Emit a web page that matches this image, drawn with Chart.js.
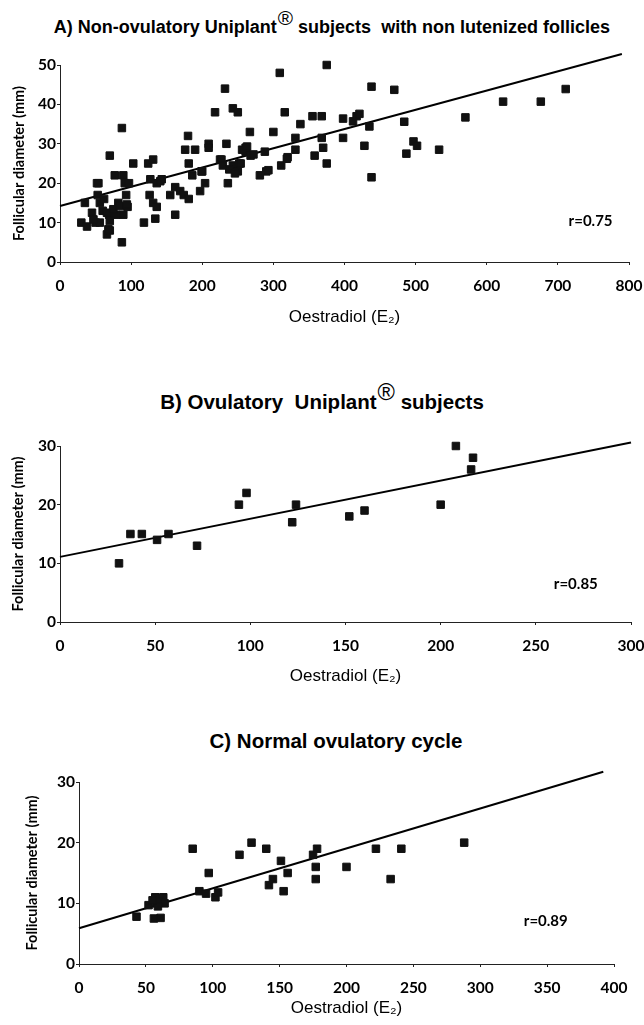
<!DOCTYPE html>
<html>
<head>
<meta charset="utf-8">
<script src="https://cdn.jsdelivr.net/npm/chart.js@4/dist/chart.umd.min.js"></script>
<style>
  body{margin:0;background:#fff;width:644px;height:1025px;position:relative;overflow:hidden}
  canvas{position:absolute;left:0}
  .ttl{position:absolute;left:0;width:644px;text-align:center;font:bold 20.5px "Liberation Sans",Arial,sans-serif;color:#000;white-space:nowrap}
  .ttl .reg{font-weight:normal;font-size:1.15em;position:relative;top:-0.4em;margin-left:1px}
</style>
</head>
<body>
<div class="ttl" style="top:14px;left:10px;font-size:18px">A) Non-ovulatory Uniplant<span class="reg">®</span> subjects &nbsp;with non lutenized follicles</div>
<canvas id="chartA" width="644" height="300" style="top:40px"></canvas>
<div class="ttl" style="top:388px;left:0px">B) Ovulatory &nbsp;Uniplant<span class="reg">®</span> subjects</div>
<canvas id="chartB" width="644" height="290" style="top:420px"></canvas>
<div class="ttl" style="top:729px;left:14px">C) Normal ovulatory cycle</div>
<canvas id="chartC" width="644" height="265" style="top:760px"></canvas>
<script>
// A) non-ovulatory, non luteinized follicles
const aX = [30,38,35,54,53,56,45,50,56,60,62,66,70,70,69,77,79,87,87,89,91,93,95,89,82,97,
  103,118,124,131,127,126,131,136,134,136,143,155,162,162,169,174,180,176,181,181,186,190,197,200,
  204,209,209,218,232,225,234,236,243,250,243,250,252,261,267,261,268,281,288,290,300,309,316,311,
  320,331,331,338,355,368,358,368,370,375,375,398,398,412,417,421,438,435,428,438,470,484,487,497,
  502,533,570,623,676,711,227,229,256,263,272,238,246,254,319,293,199,66,75,84,94,47,70,68,141,52];
const aY = [10,9,15,20,17,15,12.5,10,10,13,16,7,27,8,12,22,12,34,5,22,20,17,14,12,15,20,
  25,10,25,26,21,17,15,14,11,20,21,17,12,19,18,17,32,28.5,25,16,22,28.5,18,23,
  20,30,29,38,44,26,30,20,39,38,24.5,23,25,28,33,29,27,22,28,23,33,48,38,24.5,
  26.6,31.5,28.5,35,37,37,27,31.5,29,50,25,36.4,31.5,35.7,37,37.6,44.5,34.4,29.5,21.5,43.7,35.6,27.5,30.6,
  29.5,28.5,36.7,40.7,40.7,43.9,26,24.5,28.5,29.3,27.3,23.5,22.5,25,26.2,23.3,23,12.5,13.4,14.2,14.6,10.8,10.4,8.3,20.5,20];
const aLineX = [0,790];
const aLineY = [14.2,52.8];

// B) ovulatory
const bX = [31,37,43,51,57,72,94,98,122,124,152,160,200,208,216,217];
const bY = [10,15,15,14,15,13,20,22,17,20,18,19,20,30,26,28];
const bLineX = [0,300];
const bLineY = [11.1,30.6];

// C) normal ovulatory cycle
const cX = [43,52,56,61,57,63,58,60,64,59,55,85,90,97,95,102,104,120,129,140,142,145,151,153,156,
  175,178,177,177,200,222,233,241,288];
const cY = [7.8,9.7,7.5,7.6,11,11,10,10.3,10,9.5,10.5,19,12,15,11.6,11,11.8,18,20,19,13,14,17,12,15,
  18,19,16,14,16,19,14,19,20];
const cLineX = [0,392];
const cLineY = [5.9,31.7];

const tickFont = {family:'Lato', weight:'bold', size:15.5};

const rLabel = {
  id:'rLabel',
  afterDatasetsDraw(chart, args, o){
    const {ctx, scales:{x, y}} = chart;
    ctx.save();
    ctx.font = 'bold 15px Lato';
    ctx.fillStyle = '#000';
    ctx.textAlign = 'center';
    ctx.textBaseline = 'middle';
    ctx.fillText(o.text, x.getPixelForValue(o.x), y.getPixelForValue(o.y));
    ctx.restore();
  }
};

const pts = (xs, ys) => xs.map((v,i)=> ({x:v, y:ys[i]}));

function makeChart(id, c){
  return new Chart(document.getElementById(id), {
    type:'scatter',
    data:{
      datasets:[
        {data:pts(c.xs, c.ys), pointStyle:'rect', pointRadius:5.3, backgroundColor:'#111',
          borderColor:'#111', borderWidth:1, clip:false},
        {data:pts(c.lx, c.ly), showLine:true, borderColor:'#000', borderWidth:2,
          pointRadius:0, fill:false, clip:false}
      ]
    },
    options:{
      responsive:false,
      animation:false,
      layout:{padding:c.pad},
      plugins:{legend:{display:false}, tooltip:{enabled:false}, rLabel:c.r},
      scales:{
        x:{
          type:'linear', min:0, max:c.xMax,
          ticks:{stepSize:c.xStep, color:'#000', font:tickFont, padding:12, maxRotation:0},
          grid:{drawOnChartArea:false, tickLength:3, color:'#222'},
          border:{color:'#222', width:1},
          title:{display:true, text:'Oestradiol (E₂)', color:'#000',
            font:{family:'Liberation Sans', size:17}, padding:0},
          afterFit: s => { s.height = c.xH; s.paddingLeft = 0; s.paddingRight = 0; }
        },
        y:{
          min:0, max:c.yMax,
          ticks:{stepSize:10, color:'#000', font:tickFont, padding:1},
          grid:{drawOnChartArea:false, tickLength:3, color:'#222'},
          border:{color:'#222', width:1},
          title:{display:true, text:'Follicular diameter (mm)', color:'#000',
            font:{family:'Lato', weight:'bold', size:14.5}, padding:{top:c.yTitle, bottom:0}},
          afterFit: s => { s.width = c.yW; s.paddingTop = 0; s.paddingBottom = 0; }
        }
      }
    },
    plugins:[rLabel]
  });
}

makeChart('chartA', {xs:aX, ys:aY, lx:aLineX, ly:aLineY, xMax:800, xStep:100, yMax:50,
  pad:{top:25, right:15, left:0, bottom:12}, xH:66, yW:60, yTitle:10.3,
  r:{text:'r=0.75', x:746, y:10.4}});

makeChart('chartB', {xs:bX, ys:bY, lx:bLineX, ly:bLineY, xMax:300, xStep:50, yMax:30,
  pad:{top:26, right:13, left:0, bottom:23}, xH:65, yW:60, yTitle:9.3,
  r:{text:'r=0.85', x:271, y:6.4}});

makeChart('chartC', {xs:cX, ys:cY, lx:cLineX, ly:cLineY, xMax:400, xStep:50, yMax:30,
  pad:{top:22, right:30, left:0, bottom:6}, xH:55, yW:79, yTitle:23.3,
  r:{text:'r=0.89', x:349, y:7.0}});
</script>
</body>
</html>
